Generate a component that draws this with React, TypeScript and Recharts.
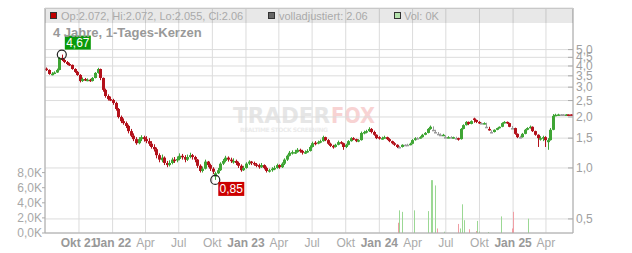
import { ComposedChart, Bar, XAxis, YAxis, CartesianGrid, ReferenceDot } from 'recharts';

const FONT = '"Liberation Sans", Arial, sans-serif';
const GREEN = '#3fa535';
const RED = '#b3111b';
const GREY = '#9a9a9a';

const START = Date.UTC(2021, 6, 1);
const dayOf = (iso: string) => (Date.parse(iso) - START) / 864e5;

const tickDates = [
  '2021-10-01', '2022-01-01', '2022-04-01', '2022-07-01', '2022-10-01', '2023-01-01', '2023-04-01', '2023-07-01',
  '2023-10-01', '2024-01-01', '2024-04-01', '2024-07-01', '2024-10-01', '2025-01-01', '2025-04-01',
];
const tickLabels = ['Okt 21', 'Jan 22', 'Apr', 'Jul', 'Okt', 'Jan 23', 'Apr', 'Jul', 'Okt', 'Jan 24', 'Apr', 'Jul', 'Okt', 'Jan 25', 'Apr'];
const priceTicks = [0.5, 1, 1.5, 2, 2.5, 3, 3.5, 4, 4.5, 5];
const volTicks = [0, 2, 4, 6, 8];

// weekly candles from 1 Jul 2021: [open, high, low, close]
const ohlc2021 = [
  [3.86, 3.92, 3.74, 3.79], [3.79, 3.82, 3.55, 3.59], [3.59, 3.68, 3.52, 3.6], [3.6, 3.72, 3.58, 3.66],
  [3.66, 3.86, 3.64, 3.79], [3.79, 4.52, 3.77, 4.46], [4.46, 4.67, 4.28, 4.34], [4.34, 4.4, 4.16, 4.22],
  [4.22, 4.28, 4.05, 4.11], [4.11, 4.18, 4.0, 4.06], [4.06, 4.08, 3.8, 3.84], [3.84, 3.88, 3.64, 3.69],
  [3.69, 3.74, 3.5, 3.54], [3.54, 3.58, 3.2, 3.26], [3.26, 3.42, 3.22, 3.35], [3.35, 3.4, 3.26, 3.31],
  [3.31, 3.38, 3.25, 3.32], [3.32, 3.36, 3.22, 3.26], [3.26, 3.44, 3.24, 3.4], [3.4, 3.68, 3.38, 3.64],
  [3.64, 3.9, 3.6, 3.84], [3.84, 3.86, 3.3, 3.4], [3.4, 3.42, 2.82, 2.89], [2.89, 2.94, 2.6, 2.66],
  [2.66, 2.72, 2.5, 2.55], [2.55, 2.64, 2.48, 2.52],
];
const ohlc2022 = [
  [2.52, 2.56, 2.36, 2.42], [2.42, 2.46, 2.18, 2.23], [2.23, 2.26, 1.96, 2.0], [2.0, 2.04, 1.84, 1.89],
  [1.89, 1.96, 1.8, 1.84], [1.84, 1.88, 1.72, 1.77], [1.77, 1.8, 1.6, 1.65], [1.65, 1.7, 1.52, 1.55],
  [1.55, 1.6, 1.44, 1.48], [1.48, 1.52, 1.37, 1.4], [1.4, 1.52, 1.38, 1.48], [1.48, 1.56, 1.44, 1.52],
  [1.52, 1.55, 1.43, 1.48], [1.48, 1.54, 1.4, 1.44], [1.44, 1.5, 1.35, 1.39], [1.39, 1.44, 1.3, 1.33],
  [1.33, 1.38, 1.25, 1.29], [1.29, 1.32, 1.14, 1.19], [1.19, 1.22, 1.08, 1.12], [1.11, 1.2, 1.08, 1.15],
  [1.15, 1.17, 1.04, 1.07], [1.07, 1.1, 1.01, 1.04], [1.04, 1.11, 1.02, 1.07], [1.07, 1.15, 1.05, 1.12],
  [1.12, 1.16, 1.07, 1.11], [1.11, 1.17, 1.08, 1.13], [1.13, 1.22, 1.11, 1.18], [1.18, 1.21, 1.12, 1.16],
  [1.16, 1.19, 1.08, 1.12], [1.12, 1.2, 1.1, 1.16], [1.16, 1.23, 1.14, 1.19], [1.19, 1.21, 1.12, 1.16],
  [1.16, 1.18, 1.08, 1.12], [1.12, 1.13, 1.0, 1.03], [1.03, 1.05, 0.94, 0.96], [0.96, 1.02, 0.94, 0.99],
  [0.99, 1.12, 0.98, 1.09], [1.09, 1.1, 1.01, 1.04], [1.04, 1.06, 0.96, 0.99], [0.99, 1.01, 0.92, 0.95],
  [0.89, 0.95, 0.85, 0.93], [0.93, 1.0, 0.92, 0.97], [0.97, 1.08, 0.96, 1.06], [1.06, 1.13, 1.04, 1.1],
  [1.1, 1.18, 1.08, 1.15], [1.15, 1.17, 1.09, 1.12], [1.12, 1.15, 1.07, 1.1], [1.08, 1.14, 1.06, 1.1],
  [1.1, 1.12, 1.04, 1.07], [1.07, 1.09, 1.0, 1.03], [1.03, 1.05, 0.95, 0.97], [0.97, 1.03, 0.96, 1.0],
];
const ohlc2023 = [
  [1.0, 1.08, 0.99, 1.06], [1.06, 1.11, 1.04, 1.09], [1.09, 1.1, 1.04, 1.07], [1.07, 1.09, 1.03, 1.05],
  [1.05, 1.07, 1.01, 1.04], [1.04, 1.06, 0.99, 1.01], [1.01, 1.07, 1.0, 1.04], [1.04, 1.05, 0.98, 1.0],
  [1.0, 1.02, 0.94, 0.96], [0.96, 0.99, 0.94, 0.97], [0.97, 1.01, 0.95, 0.99], [0.99, 1.03, 0.97, 1.0],
  [1.0, 1.06, 0.99, 1.04], [1.04, 1.05, 0.99, 1.01], [1.01, 1.08, 1.0, 1.06], [1.06, 1.14, 1.04, 1.12],
  [1.12, 1.2, 1.1, 1.18], [1.18, 1.26, 1.17, 1.23], [1.23, 1.27, 1.2, 1.24], [1.22, 1.28, 1.21, 1.24],
  [1.24, 1.31, 1.23, 1.28], [1.28, 1.3, 1.23, 1.26], [1.26, 1.28, 1.2, 1.23], [1.23, 1.27, 1.21, 1.24],
  [1.24, 1.29, 1.23, 1.26], [1.26, 1.36, 1.25, 1.33], [1.33, 1.43, 1.32, 1.4], [1.41, 1.44, 1.36, 1.4],
  [1.4, 1.45, 1.38, 1.42], [1.42, 1.47, 1.4, 1.44], [1.44, 1.55, 1.43, 1.52], [1.52, 1.53, 1.44, 1.46],
  [1.46, 1.48, 1.37, 1.39], [1.39, 1.41, 1.33, 1.35], [1.35, 1.37, 1.3, 1.33], [1.33, 1.39, 1.32, 1.37],
  [1.37, 1.45, 1.36, 1.42], [1.42, 1.44, 1.38, 1.4], [1.4, 1.41, 1.28, 1.33], [1.33, 1.39, 1.31, 1.37],
  [1.37, 1.46, 1.36, 1.44], [1.44, 1.52, 1.43, 1.5], [1.5, 1.52, 1.46, 1.48], [1.48, 1.49, 1.42, 1.44],
  [1.44, 1.48, 1.42, 1.46], [1.46, 1.64, 1.45, 1.61], [1.61, 1.66, 1.58, 1.63], [1.63, 1.68, 1.6, 1.65],
  [1.65, 1.74, 1.63, 1.7], [1.7, 1.72, 1.6, 1.63], [1.63, 1.66, 1.55, 1.57], [1.57, 1.58, 1.48, 1.5],
];
const ohlc2024 = [
  [1.52, 1.54, 1.47, 1.5], [1.49, 1.53, 1.47, 1.5], [1.5, 1.55, 1.49, 1.52], [1.52, 1.53, 1.46, 1.48],
  [1.48, 1.5, 1.42, 1.44], [1.44, 1.45, 1.38, 1.4], [1.4, 1.42, 1.35, 1.37], [1.37, 1.38, 1.31, 1.33],
  [1.33, 1.35, 1.31, 1.33], [1.33, 1.38, 1.32, 1.37], [1.37, 1.38, 1.35, 1.37], [1.37, 1.39, 1.35, 1.37],
  [1.37, 1.41, 1.36, 1.39], [1.39, 1.48, 1.38, 1.46], [1.46, 1.52, 1.45, 1.5], [1.5, 1.52, 1.48, 1.5],
  [1.5, 1.54, 1.49, 1.52], [1.52, 1.59, 1.51, 1.57], [1.57, 1.63, 1.56, 1.61], [1.61, 1.72, 1.6, 1.7],
  [1.7, 1.78, 1.68, 1.75], [1.68, 1.76, 1.66, 1.68], [1.63, 1.68, 1.62, 1.63], [1.59, 1.63, 1.57, 1.59],
  [1.57, 1.6, 1.55, 1.57], [1.56, 1.59, 1.55, 1.57], [1.52, 1.56, 1.51, 1.52], [1.51, 1.54, 1.5, 1.52],
  [1.52, 1.54, 1.5, 1.52], [1.51, 1.53, 1.49, 1.52], [1.5, 1.53, 1.48, 1.5], [1.5, 1.51, 1.45, 1.48],
  [1.48, 1.72, 1.47, 1.7], [1.7, 1.81, 1.69, 1.79], [1.79, 1.89, 1.78, 1.87], [1.87, 1.88, 1.79, 1.82],
  [1.82, 1.91, 1.81, 1.89], [1.96, 1.98, 1.85, 1.92], [1.92, 1.93, 1.84, 1.87], [1.87, 1.89, 1.82, 1.84],
  [1.84, 1.86, 1.82, 1.84], [1.83, 1.86, 1.81, 1.84], [1.75, 1.85, 1.73, 1.75], [1.7, 1.75, 1.66, 1.68],
  [1.63, 1.67, 1.61, 1.63], [1.63, 1.69, 1.62, 1.68], [1.68, 1.73, 1.67, 1.72], [1.72, 1.76, 1.71, 1.75],
  [1.75, 1.86, 1.74, 1.84], [1.84, 1.89, 1.83, 1.87], [1.87, 1.88, 1.82, 1.84], [1.84, 1.85, 1.74, 1.75],
  [1.72, 1.77, 1.7, 1.72],
];
const ohlc2025 = [
  [1.72, 1.73, 1.57, 1.59], [1.59, 1.6, 1.5, 1.52], [1.52, 1.55, 1.5, 1.52], [1.52, 1.61, 1.51, 1.59],
  [1.59, 1.7, 1.58, 1.68], [1.68, 1.74, 1.67, 1.72], [1.72, 1.78, 1.71, 1.75], [1.75, 1.76, 1.63, 1.65],
  [1.65, 1.66, 1.55, 1.57], [1.57, 1.58, 1.33, 1.5], [1.47, 1.54, 1.45, 1.5], [1.5, 1.55, 1.44, 1.52],
  [1.52, 1.54, 1.33, 1.46], [1.42, 1.5, 1.28, 1.46], [1.46, 1.72, 1.45, 1.68], [1.68, 2.08, 1.67, 2.03],
  [2.03, 2.09, 2.02, 2.06], [2.06, 2.09, 2.05, 2.07], [2.07, 2.08, 2.06, 2.07], [2.07, 2.08, 2.06, 2.07],
  [2.06, 2.08, 2.05, 2.07], [2.07, 2.07, 2.055, 2.06], [2.072, 2.072, 2.055, 2.06],
];

// volume in thousands, by day since 1 Jul 2021
const volDays = [966, 969, 977, 1010, 1048, 1056, 1059, 1066, 1073, 1092, 1130, 1135, 1141, 1147, 1160, 1179, 1182, 1186, 1212, 1248, 1278, 1281, 1322];
const volK = [1.36, 3.0, 2.8, 3.0, 2.9, 7.0, 7.0, 6.3, 0.6, 0.17, 1.2, 0.6, 3.8, 1.7, 0.5, 0.26, 1.6, 0.2, 0.13, 2.2, 0.6, 2.8, 1.9];
const volUp = [false, true, true, true, true, true, true, true, false, true, false, true, true, true, false, false, true, true, true, true, false, false, true];

const peak = { week: 6, price: 4.67, label: '4,67' };
const low = { week: 66, price: 0.85, label: '0,85' };

const weekDay = (i: number) => 7 * i + 3;
const candles = [...ohlc2021, ...ohlc2022, ...ohlc2023, ...ohlc2024, ...ohlc2025];
const rows: any[] = [
  ...candles.map(([o, h, l, c], i) => ({ day: weekDay(i), o, h, l, c })),
  ...volDays.map((day, i) => ({ day, vol: volK[i], up: volUp[i] })),
].sort((a, b) => a.day - b.day);

const fmt = (v: number, d = 1) => v.toFixed(d).replace('.', ',');

function Candle(props: any) {
  const { x, y, width, height, payload } = props;
  if (payload?.h == null || !isFinite(y) || !isFinite(height)) return null;
  const { o, h, l, c } = payload;
  const top = Math.min(y, y + height);
  const bot = Math.max(y, y + height);
  const span = Math.log(h) - Math.log(l) || 1;
  const yAt = (v: number) => top + ((bot - top) * (Math.log(h) - Math.log(v))) / span;
  const color = c > o ? GREEN : c < o ? RED : GREY;
  const px = Math.round(x + width / 2);
  const b1 = Math.min(yAt(o), yAt(c));
  const b2 = Math.max(yAt(o), yAt(c));
  return (
    <g>
      <line x1={px + 0.5} x2={px + 0.5} y1={top} y2={Math.max(bot, top + 1)} stroke={color} />
      <rect x={px - 1} y={b1} width={3} height={Math.max(1.5, b2 - b1)} fill={color} />
    </g>
  );
}

function VolBar(props: any) {
  const { x, y, width, height, payload } = props;
  if (payload?.vol == null || !isFinite(y)) return null;
  const px = Math.round(x + width / 2);
  return <rect x={px} y={y} width={1} height={height} fill={payload.up ? '#9bd894' : '#f09ea4'} />;
}

function DateTick({ x, y, payload }: any) {
  const i = tickDates.findIndex((d) => Math.abs(dayOf(d) - payload.value) < 0.5);
  const label = tickLabels[i] ?? '';
  const bold = /\d/.test(label);
  return (
    <text x={x} y={y} dy={14} textAnchor="middle" fontSize={12} fontWeight={bold ? 700 : 400} fill={bold ? '#999' : '#aaa'}>
      {label}
    </text>
  );
}

function PriceTick({ x, y, payload }: any) {
  return (
    <g>
      <line x1={x - 5} x2={x} y1={y} y2={y} stroke="#aaa" />
      <text x={x + 3} y={y} dy={4} fontSize={12} fill="#a0a0a0">{fmt(payload.value)}</text>
    </g>
  );
}

function VolTick({ x, y, payload }: any) {
  return (
    <g>
      <line x1={x - 3} x2={x} y1={y} y2={y} stroke="#aaa" />
      <text x={x - 3} y={y} dy={4} textAnchor="end" fontSize={12} fill="#a8a8a8">{fmt(payload.value)}K</text>
    </g>
  );
}

function Marker(props: any, text: string, above: boolean, bg: string) {
  const { cx, cy } = props;
  const by = above ? cy - 19 : cy + 2;
  return (
    <g>
      <circle cx={cx} cy={cy} r={4.5} fill="none" stroke="#222" strokeWidth={1.2} />
      <rect x={cx + 3} y={by} width={26} height={14} fill={bg} />
      <text x={cx + 16} y={by + 11} textAnchor="middle" fontSize={12} fill="#fff">{text}</text>
    </g>
  );
}

function Square({ left, color }: { left: number; color: string }) {
  return (
    <div style={{ position: 'absolute', left, top: 12, width: 5, height: 5, border: '1px solid #333', background: color }} />
  );
}

export default function App() {
  return (
    <div style={{ position: 'absolute', left: 0, top: 0, width: 632, height: 253, fontFamily: FONT, background: '#fff', overflow: 'hidden' }}>
      <svg width={632} height={253} style={{ position: 'absolute', left: 0, top: 0 }}>
        <text x={233} y={123} fontFamily="DejaVu Sans" fontWeight={700} fontSize={21} fill="#e6e6e6" textLength={97} lengthAdjust="spacingAndGlyphs">TRADER</text>
        <text x={331} y={123} fontFamily="DejaVu Sans" fontWeight={700} fontSize={21} fill="#f8d3d3" textLength={44} lengthAdjust="spacingAndGlyphs">FOX</text>
        <text x={240} y={132} fontFamily="DejaVu Sans" fontWeight={700} fontSize={6} fill="#ebebeb" textLength={88} lengthAdjust="spacing">REALTIME STOCK SCREENING</text>
      </svg>
      <div style={{ position: 'absolute', left: 0, top: 0 }}>
        <ComposedChart width={632} height={253} data={rows} margin={{ top: 8, right: 0, bottom: 0, left: 0 }}>
          <CartesianGrid xAxisId="t" yAxisId="p" stroke="#dcdcdc" />
          <XAxis
            xAxisId="t"
            dataKey="day"
            type="number"
            domain={[-1, 1444]}
            allowDataOverflow
            ticks={tickDates.map(dayOf)}
            interval={0}
            tick={<DateTick />}
            tickLine={false}
            tickSize={0}
            tickMargin={0}
            height={20}
            axisLine={{ stroke: '#aaa' }}
          />
          <XAxis xAxisId="v" dataKey="day" type="number" domain={[-1, 1444]} allowDataOverflow hide />
          <YAxis
            yAxisId="vol"
            orientation="left"
            width={45}
            domain={[0, 29.8]}
            allowDataOverflow
            ticks={volTicks}
            interval={0}
            tick={<VolTick />}
            tickLine={false}
            tickSize={0}
            tickMargin={0}
            axisLine={{ stroke: '#aaa' }}
          />
          <YAxis
            yAxisId="p"
            orientation="right"
            width={59}
            scale="log"
            domain={[0.413, 8.8]}
            allowDataOverflow
            ticks={priceTicks}
            interval={0}
            tick={<PriceTick />}
            tickLine={false}
            tickSize={0}
            tickMargin={0}
            axisLine={{ stroke: '#aaa' }}
          />
          <Bar
            xAxisId="v"
            yAxisId="vol"
            dataKey="vol"
            barSize={1}
            shape={<VolBar />}
            isAnimationActive={false}
          />
          <Bar
            xAxisId="t"
            yAxisId="p"
            dataKey={(d: any) => (d.h == null ? null : [d.l, d.h])}
            barSize={2}
            shape={<Candle />}
            isAnimationActive={false}
          />
          <ReferenceDot xAxisId="t" yAxisId="p" x={weekDay(peak.week)} y={peak.price} r={4} shape={(p: any) => Marker(p, peak.label, true, '#0a9a0a')} />
          <ReferenceDot xAxisId="t" yAxisId="p" x={weekDay(low.week)} y={low.price} r={4} shape={(p: any) => Marker(p, low.label, false, '#cc0000')} />
        </ComposedChart>
      </div>
      <div style={{ position: 'absolute', left: 45, top: 8, width: 528, height: 14, background: 'rgba(0,0,0,0.09)', borderTop: '1px solid #c8c8c8' }} />
      <Square left={50} color="#c00000" />
      <div style={{ position: 'absolute', left: 61, top: 9, lineHeight: '14px', fontSize: 11, color: '#aaa', whiteSpace: 'nowrap' }}>
        Op:2.072, Hi:2.072, Lo:2.055, Cl:2.06
      </div>
      <Square left={268} color="#666" />
      <div style={{ position: 'absolute', left: 279, top: 9, lineHeight: '14px', fontSize: 11, color: '#aaa', whiteSpace: 'nowrap' }}>
        volladjustiert: 2.06
      </div>
      <Square left={394} color="#b5e2ad" />
      <div style={{ position: 'absolute', left: 404, top: 9, lineHeight: '14px', fontSize: 11, color: '#aaa', whiteSpace: 'nowrap' }}>
        Vol: 0K
      </div>
      <div style={{ position: 'absolute', left: 53, top: 25, lineHeight: '15px', fontSize: 13, fontWeight: 700, color: '#999', whiteSpace: 'nowrap' }}>
        4 Jahre, 1-Tages-Kerzen
      </div>
    </div>
  );
}
